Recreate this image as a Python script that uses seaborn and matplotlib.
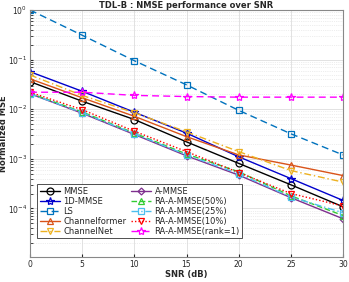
import matplotlib
matplotlib.use("Agg")
import matplotlib.pyplot as plt
import seaborn as sns
import numpy as np

snr = [0, 5, 10, 15, 20, 25, 30]

mmse = [0.036, 0.0145, 0.0062, 0.0022, 0.00081, 0.0003, 0.000108]
mmse_1d = [0.057, 0.023, 0.0087, 0.0033, 0.0011, 0.0004, 0.000145]
ls = [1.0, 0.31, 0.095, 0.031, 0.0095, 0.0032, 0.0012]
channelformer = [0.041, 0.017, 0.0072, 0.0028, 0.0012, 0.00075, 0.00046]
channelnet = [0.049, 0.019, 0.0085, 0.0035, 0.0014, 0.00058, 0.00034]
a_mmse = [0.0205, 0.0083, 0.0031, 0.00115, 0.00047, 0.000165, 0.000062]
ra50 = [0.021, 0.0088, 0.0033, 0.00125, 0.00055, 0.00018, 0.000072]
ra25 = [0.0205, 0.0085, 0.0032, 0.0012, 0.0005, 0.00017, 0.000082]
ra10 = [0.022, 0.0098, 0.0036, 0.0014, 0.00053, 0.0002, 0.000112]
rank1 = [0.022, 0.022, 0.019, 0.018, 0.0175, 0.0175, 0.0175]

sns.set_style("ticks")
plt.rcParams['font.family'] = ['DejaVu Sans']

fig = plt.figure(figsize=(3.49, 2.82), dpi=100)
ax = fig.add_axes([30/349, 1 - 257/282, 313/349, 247/282])

# (label, data, color, marker, linestyle)
series = [
    ("MMSE", mmse, "black", "o", "-"),
    ("1D-MMSE", mmse_1d, "#0000CC", "*", "-"),
    ("LS", ls, "#0072BD", "s", (0, (5, 3))),
    ("Channelformer", channelformer, "#D95319", "^", "-"),
    ("ChannelNet", channelnet, "#EDB120", "v", (0, (5, 2, 1, 2))),
    ("A-MMSE", a_mmse, "#7E2F8E", "D", "-"),
    ("RA-A-MMSE(50%)", ra50, "#33CC33", "^", (0, (4, 2))),
    ("RA-A-MMSE(25%)", ra25, "#4DBEEE", "s", (0, (5, 2, 1, 2))),
    ("RA-A-MMSE(10%)", ra10, "#FF0000", "v", (0, (1, 1.5))),
    ("RA-A-MMSE(rank=1)", rank1, "#FF00FF", "*", (0, (5, 3))),
]

for label, vals, col, mk, lsty in series:
    ms = {"D": 3.5, "*": 6, "s": 4.5}.get(mk, 5)
    sns.lineplot(x=snr, y=vals, ax=ax, color=col, marker=mk, linestyle=lsty,
                 linewidth=1.0, markersize=ms, markerfacecolor="none",
                 markeredgecolor=col, markeredgewidth=0.9, legend=False)

ax.set_yscale("log")
ax.set_xlim(0, 30)
ax.set_ylim(1.05e-5, 1)
ax.set_xticks([0, 5, 10, 15, 20, 25, 30])
ax.set_yticks([1e-4, 1e-3, 1e-2, 1e-1, 1e0])
ax.grid(True, which="major", color="#dddddd", linewidth=0.6)
ax.grid(True, which="minor", color="#dddddd", linewidth=0.5, linestyle=":")
ax.tick_params(labelsize=5.5, length=2, which="both", direction="in", pad=2)
for s in ax.spines.values():
    s.set_color("#888888")
    s.set_linewidth(0.8)

ax.set_title("TDL-B : NMSE performance over SNR", fontsize=6, fontweight="bold", pad=1.5)
ax.set_xlabel("SNR (dB)", fontsize=6, fontweight="bold", labelpad=1)
ax.set_ylabel("Normalized MSE", fontsize=6, fontweight="bold")
ax.yaxis.set_label_coords(-0.07, 0.5)

handles = ax.get_lines()[:len(series)]
labels = [s[0] for s in series]
leg = ax.legend(handles, labels, ncol=2, loc="lower left", bbox_to_anchor=(0.01, 0.06),
                fontsize=6, frameon=True, fancybox=False, edgecolor="#333333",
                handlelength=2.4, handletextpad=0.4, columnspacing=0.6,
                labelspacing=0.12, borderpad=0.3, framealpha=1)
leg.get_frame().set_linewidth(0.6)

fig.savefig("out.png", dpi=100)
